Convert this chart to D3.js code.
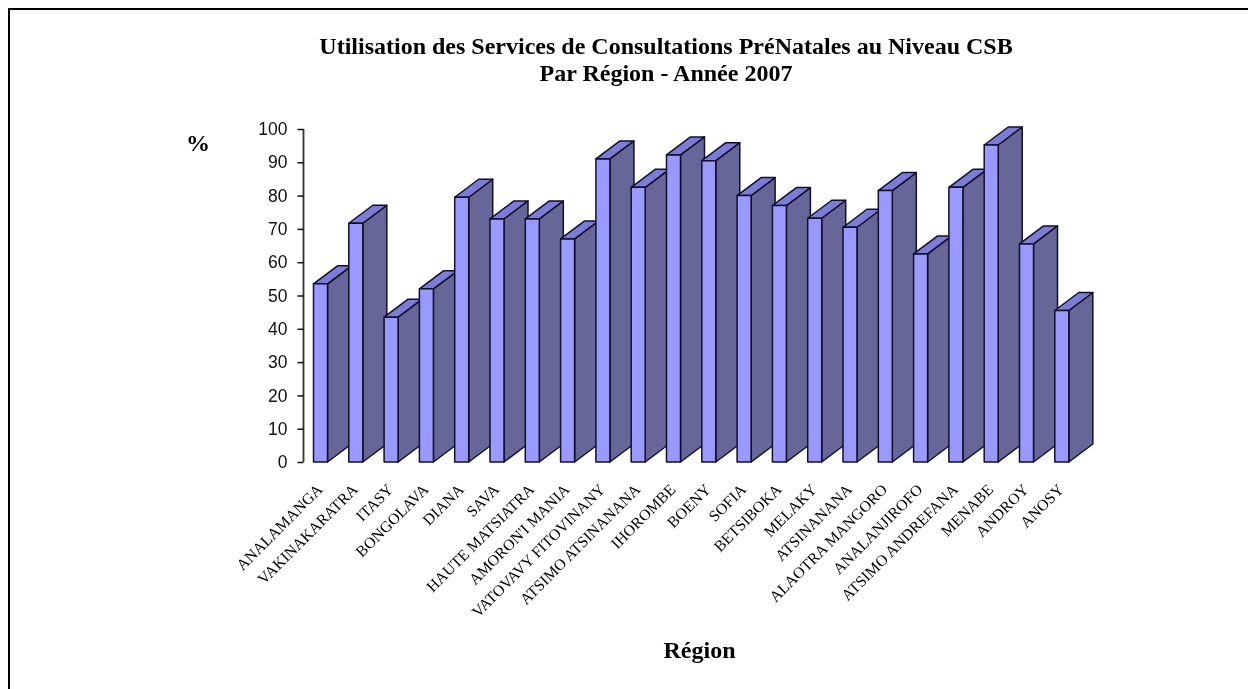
<!DOCTYPE html>
<html><head><meta charset="utf-8">
<script src="https://cdn.jsdelivr.net/npm/d3@7"></script>
<style>html,body{margin:0;padding:0;background:#fff}svg{display:block}.soft{filter:blur(.35px)}</style>
</head><body><svg id="c" width="1248" height="689"></svg>
<script>
const categories=["ANALAMANGA","VAKINAKARATRA","ITASY","BONGOLAVA","DIANA","SAVA","HAUTE MATSIATRA","AMORON'I MANIA","VATOVAVY FITOVINANY","ATSIMO ATSINANANA","IHOROMBE","BOENY","SOFIA","BETSIBOKA","MELAKY","ATSINANANA","ALAOTRA MANGORO","ANALANJIROFO","ATSIMO ANDREFANA","MENABE","ANDROY","ANOSY"];
const values=[53.5,71.7,43.5,52,79.5,73,73,67,91,82.5,92.2,90.5,80,77,73.2,70.5,81.5,62.5,82.5,95.2,65.5,45.5];
const yTicks=[0,10,20,30,40,50,60,70,80,90,100];
const titleLines=["Utilisation des Services de Consultations PréNatales au Niveau CSB","Par Région - Année 2007"];
const yTitle="%", xTitle="Région";

const svg=d3.select("#c");
const serif="'Liberation Serif','Times New Roman',serif", sans="'Liberation Sans',Arial,sans-serif";
const dx=24, dy=18;
const y=d3.scaleLinear().domain([0,100]).range([462,129]);
const x=d3.scaleBand().domain(categories).range([303.5,1078.8]).paddingInner(.603).paddingOuter(.283).align(0.5);

svg.append("path").attr("d","M9,689V9H1248").attr("fill","none").attr("stroke","#000").attr("stroke-width",2);

svg.append("g").attr("class","soft").selectAll("text").data(titleLines).join("text")
  .attr("x",666).attr("y",(d,i)=>53.5+i*27).attr("text-anchor","middle")
  .attr("font-family",serif).attr("font-weight","bold").attr("font-size",24).attr("fill","#000").text(d=>d);
svg.append("text").attr("class","soft").attr("x",198).attr("y",151).attr("text-anchor","middle").attr("font-family",serif).attr("font-weight","bold").attr("font-size",24).text(yTitle);
svg.append("text").attr("class","soft").attr("x",699.5).attr("y",658).attr("text-anchor","middle").attr("font-family",serif).attr("font-weight","bold").attr("font-size",24).text(xTitle);

const ax=svg.append("g").attr("class","soft").attr("transform","translate(303.5,0)").call(d3.axisLeft(y).tickValues(yTicks).tickSize(6).tickPadding(10).tickFormat(d3.format("d")));
ax.selectAll("text").attr("font-family",sans).attr("font-size",17.5).attr("fill","#111");
ax.selectAll("line").attr("stroke","#111").attr("stroke-width",1.5);
ax.select(".domain").attr("stroke","#333").attr("stroke-width",1.8).attr("d","M0,129V462");

const bars=svg.append("g").attr("class","soft").selectAll("g").data(categories).join("g");
bars.each(function(c,i){
  const g=d3.select(this), x0=x(c), x1=x0+x.bandwidth(), yt=y(values[i]), yb=y(0);
  const st={stroke:"#10102a","stroke-width":1.5,"stroke-linejoin":"round"};
  const face=(pts,fill)=>{const p=g.append("path").attr("d",d3.line()(pts)+"Z").attr("fill",fill);for(const k in st)p.attr(k,st[k]);};
  face([[x1,yt],[x1+dx,yt-dy],[x1+dx,yb-dy],[x1,yb]],"#666699");
  face([[x0,yt],[x0+dx,yt-dy],[x1+dx,yt-dy],[x1,yt]],"#7c7cd6");
  face([[x0,yt],[x1,yt],[x1,yb],[x0,yb]],"#9999ff");
});

svg.append("g").attr("class","soft").selectAll("text").data(categories).join("text")
  .attr("transform",c=>`translate(${x(c)+x.bandwidth()/2+3},${490.5}) rotate(-45)`)
  .attr("text-anchor","end").attr("font-family",serif).attr("font-size",15.7).attr("fill","#000").text(c=>c);
</script></body></html>
